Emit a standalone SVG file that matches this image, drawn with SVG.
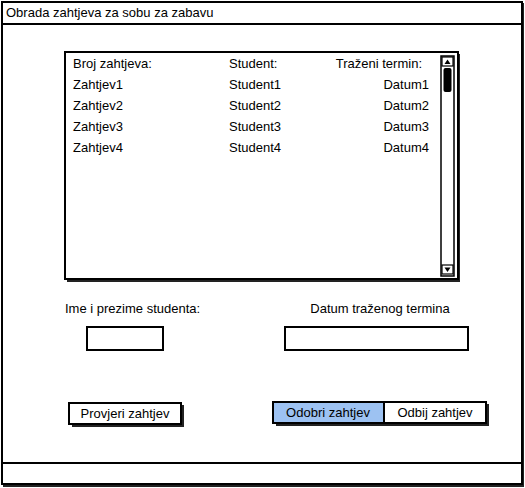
<svg xmlns="http://www.w3.org/2000/svg" width="525" height="488" viewBox="0 0 525 488">
<style>
text{font-family:"Liberation Sans",Arial,sans-serif;font-size:13px;fill:#000}
.b{fill:#fff;stroke:#000;stroke-width:2}
.sh{fill:#222;stroke:none}
.r{text-anchor:end}
.c{text-anchor:middle}
</style>
<g id="window">
<rect x="3" y="3" width="521" height="484" class="sh"/>
<rect x="2" y="2" width="520" height="482" class="b"/>
<line x1="2" y1="24" x2="522" y2="24" stroke="#000" stroke-width="2"/>
<line x1="2" y1="463" x2="522" y2="463" stroke="#000" stroke-width="2"/>
<text x="6" y="17">Obrada zahtjeva za sobu za zabavu</text>
</g>
<g id="list">
<rect x="67" y="54" width="393" height="228" class="sh"/>
<rect x="65" y="52" width="393" height="227" class="b"/>
<text x="73" y="68">Broj zahtjeva:</text>
<text x="229" y="68">Student:</text>
<text x="422" y="68" class="r">Traženi termin:</text>
<text x="73" y="89">Zahtjev1</text>
<text x="229" y="89">Student1</text>
<text x="429" y="89" class="r">Datum1</text>
<text x="73" y="110">Zahtjev2</text>
<text x="229" y="110">Student2</text>
<text x="429" y="110" class="r">Datum2</text>
<text x="73" y="131">Zahtjev3</text>
<text x="229" y="131">Student3</text>
<text x="429" y="131" class="r">Datum3</text>
<text x="73" y="152">Zahtjev4</text>
<text x="229" y="152">Student4</text>
<text x="429" y="152" class="r">Datum4</text>
<g id="scrollbar">
<rect x="441" y="56" width="13" height="220" fill="#fff" stroke="#000" stroke-width="1.5"/>
<rect x="442" y="57" width="11" height="9" fill="#fff" stroke="#000" stroke-width="1.2"/>
<polygon points="444.5,64 450.5,64 447.5,59.5" fill="#000"/>
<rect x="443.5" y="68" width="8" height="24" rx="2" fill="#000"/>
<rect x="442" y="265" width="11" height="9" fill="#fff" stroke="#000" stroke-width="1.2"/>
<polygon points="444.5,267.5 450.5,267.5 447.5,272" fill="#000"/>
</g>
</g>
<g id="label-ime"><text x="65" y="313">Ime i prezime studenta:</text></g>
<g id="label-datum"><text x="380" y="313" class="c">Datum traženog termina</text></g>
<g id="input-ime"><rect x="87" y="327" width="76" height="23" class="b"/></g>
<g id="input-datum"><rect x="285" y="327" width="183" height="23" class="b"/></g>
<g id="btn-provjeri">
<rect x="72" y="405" width="112" height="22" class="sh"/>
<rect x="69" y="403" width="112" height="21" class="b"/>
<text x="125" y="418" class="c">Provjeri zahtjev</text>
</g>
<g id="btn-group">
<rect x="276" y="404" width="213" height="22" class="sh"/>
<rect x="273" y="402" width="111" height="21" fill="#9dc2f2" stroke="#000" stroke-width="2"/>
<rect x="384" y="402" width="102" height="21" class="b"/>
<text x="328" y="417" class="c">Odobri zahtjev</text>
<text x="435" y="417" class="c">Odbij zahtjev</text>
</g>
</svg>
